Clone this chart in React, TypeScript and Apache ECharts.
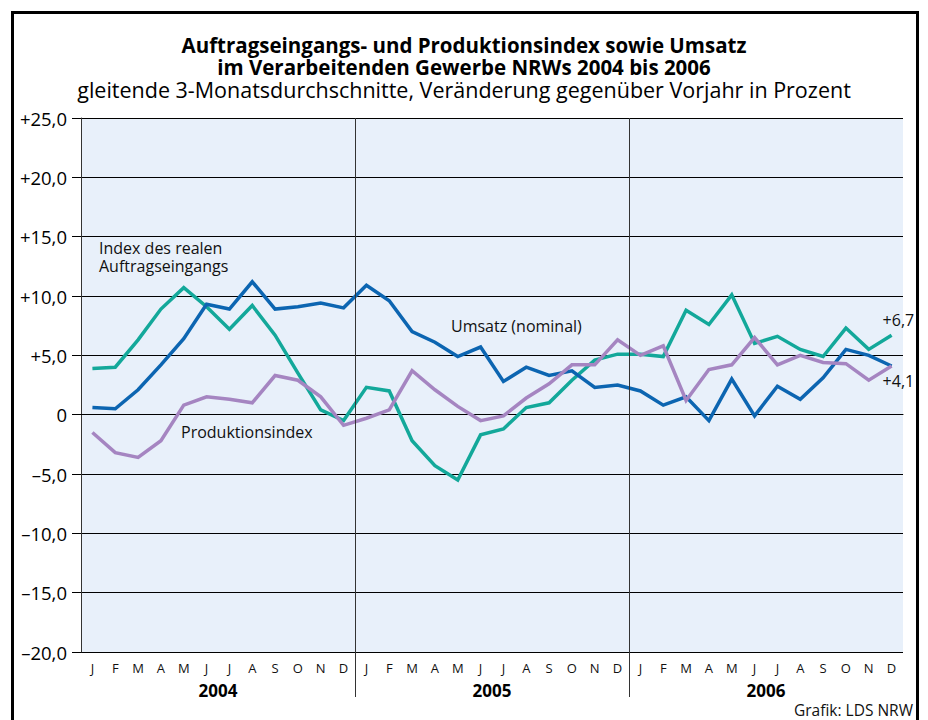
import React, { useEffect, useRef } from "react";
import * as echarts from "echarts";

const years = ["2004", "2005", "2006"];
const monthLetters = ["J", "F", "M", "A", "M", "J", "J", "A", "S", "O", "N", "D"];
const categories = years.flatMap((y) => monthLetters.map((m, i) => `${y}-${i}-${m}`));

// Index des realen Auftragseingangs (green)
const auftrag = [
  3.9, 4.0, 6.3, 8.9, 10.7, 9.1, 7.2, 9.2, 6.7, 3.5, 0.4, -0.5,
  2.3, 2.0, -2.2, -4.3, -5.5, -1.7, -1.2, 0.6, 1.0, 2.9, 4.6, 5.1,
  5.1, 4.9, 8.8, 7.6, 10.1, 6.0, 6.6, 5.5, 4.9, 7.3, 5.5, 6.7,
];
// Umsatz (nominal) (blue)
const umsatz = [
  0.6, 0.5, 2.1, 4.2, 6.4, 9.3, 8.9, 11.2, 8.9, 9.1, 9.4, 9.0,
  10.9, 9.6, 7.0, 6.1, 4.9, 5.7, 2.8, 4.0, 3.3, 3.7, 2.3, 2.5,
  2.0, 0.8, 1.5, -0.5, 3.0, -0.1, 2.4, 1.3, 3.1, 5.5, 5.0, 4.1,
];
// Produktionsindex (purple)
const produktion = [
  -1.5, -3.2, -3.6, -2.2, 0.8, 1.5, 1.3, 1.0, 3.3, 2.9, 1.5, -0.9,
  -0.3, 0.4, 3.7, 2.1, 0.7, -0.5, -0.1, 1.4, 2.6, 4.2, 4.2, 6.3,
  5.0, 5.8, 1.2, 3.8, 4.2, 6.5, 4.2, 5.0, 4.4, 4.3, 2.9, 4.1,
];

const titleLine1 = "Auftragseingangs- und Produktionsindex sowie Umsatz";
const titleLine2 = "im Verarbeitenden Gewerbe NRWs 2004 bis 2006";
const subtitleText = "gleitende 3-Monatsdurchschnitte, Veränderung gegenüber Vorjahr in Prozent";
const sourceText = "Grafik: LDS NRW";

const FONT = "'Open Sans', 'Noto Sans', sans-serif";
const GREEN = "#13A89A";
const BLUE = "#0C65B1";
const PURPLE = "#A585C1";

function fmtNum(v: number) {
  if (v === 0) return "0";
  const s = Math.abs(v).toFixed(1).replace(".", ",");
  return (v > 0 ? "+" : "–") + s;
}

export default function App() {
  const ref = useRef<HTMLDivElement>(null);
  useEffect(() => {
    document.body.style.margin = "0";
    const chart = echarts.init(ref.current!, null, { renderer: "svg" });
    const option: any = {
      animation: false,
      backgroundColor: "#ffffff",
      textStyle: { fontFamily: FONT },
      grid: {
        left: 81,
        right: 25,
        top: 118,
        bottom: 68,
        show: true,
        backgroundColor: "#E8F0FA",
        borderWidth: 0,
      },
      xAxis: [
        {
          type: "category",
          data: categories,
          boundaryGap: true,
          axisLine: { show: true, lineStyle: { color: "#000", width: 1 } },
          axisTick: { show: false },
          axisLabel: {
            interval: 0,
            margin: 9,
            fontSize: 13,
            color: "#111",
            fontFamily: FONT,
            formatter: (v: string) => v.split("-")[2],
          },
          splitLine: { show: false },
        },
        {
          type: "category",
          data: years,
          position: "bottom",
          boundaryGap: true,
          axisLine: { show: false },
          axisTick: { show: false },
          axisLabel: { interval: 0, margin: 30, fontSize: 17, fontWeight: "bold", color: "#000", fontFamily: FONT },
          splitLine: { show: false },
        },
      ],
      yAxis: {
        type: "value",
        min: -20,
        max: 25,
        interval: 5,
        axisLine: { show: true, lineStyle: { color: "#333", width: 1 } },
        axisTick: { show: true, length: 9, lineStyle: { color: "#000", width: 1 } },
        axisLabel: { margin: 14, fontSize: 18.5, color: "#000", fontFamily: FONT, formatter: (v: number) => fmtNum(v) },
        splitLine: { show: true, lineStyle: { color: "#000", width: 1 } },
      },
      series: [
        {
          name: "Index des realen Auftragseingangs",
          type: "line",
          data: auftrag,
          symbol: "none",
          lineStyle: { color: GREEN, width: 3.5, join: "miter" },
          z: 3,
        },
        {
          name: "Umsatz (nominal)",
          type: "line",
          data: umsatz,
          symbol: "none",
          lineStyle: { color: BLUE, width: 3.5, join: "miter" },
          z: 4,
        },
        {
          name: "Produktionsindex",
          type: "line",
          data: produktion,
          symbol: "none",
          lineStyle: { color: PURPLE, width: 3.5, join: "miter" },
          z: 5,
        },
      ],
    };
    chart.setOption(option);

    const px = (i: number) => chart.convertToPixel({ xAxisIndex: 0 }, i) as number;
    const py = (v: number) => chart.convertToPixel({ yAxisIndex: 0 }, v) as number;
    const yTop = py(25);
    const yBot = py(-20);
    const seps = [12, 24].map((k) => {
      const x = Math.round((px(k - 1) + px(k)) / 2) + 0.5;
      return {
        type: "line",
        shape: { x1: x, y1: yTop, x2: x, y2: yBot + 45 },
        style: { stroke: "#333", lineWidth: 1 },
        z: 10,
      };
    });
    const lastIdx = categories.length - 1;
    const lastX = px(lastIdx);
    const txt = (text: string, x: number, y: number, size = 16, align = "left", weight = "normal", lh?: number) => ({
      type: "text",
      x,
      y,
      style: {
        text,
        fill: "#111",
        font: `${weight} ${size}px ${FONT}`,
        textAlign: align,
        textVerticalAlign: "middle",
        lineHeight: lh ?? Math.round(size * 1.1),
      },
      z: 20,
    });
    chart.setOption({
      graphic: [
        ...seps,
        {
          type: "rect",
          shape: { x: 12.5, y: 12.5, width: 905, height: 760 },
          style: { fill: "none", stroke: "#000", lineWidth: 3 },
          z: 30,
        },
        {
          type: "text",
          x: 464,
          y: 67,
          style: {
            text: `{b|${titleLine1}}\n{b|${titleLine2}}\n{n|${subtitleText}}`,
            textAlign: "center",
            textVerticalAlign: "middle",
            fill: "#000",
            rich: {
              b: { font: `bold 20.5px ${FONT}`, lineHeight: 22, fill: "#000", align: "center" },
              n: { font: `normal 21.5px ${FONT}`, lineHeight: 22, fill: "#000", align: "center" },
            },
          },
          z: 20,
        },
        txt("Index des realen\nAuftragseingangs", 99, 257, 16, "left", "normal", 18),
        txt("Umsatz (nominal)", 451, 326),
        txt("Produktionsindex", 181, 432),
        txt(fmtNum(auftrag[lastIdx]), lastX - 9, py(auftrag[lastIdx]) - 15, 16),
        txt(fmtNum(umsatz[lastIdx]), lastX - 9, py(umsatz[lastIdx]) + 15, 16),
        txt(sourceText, 913, 710, 15.5, "right", "normal", 17),
      ],
    });
    return () => chart.dispose();
  }, []);
  return <div ref={ref} style={{ width: 928, height: 720 }} />;
}
